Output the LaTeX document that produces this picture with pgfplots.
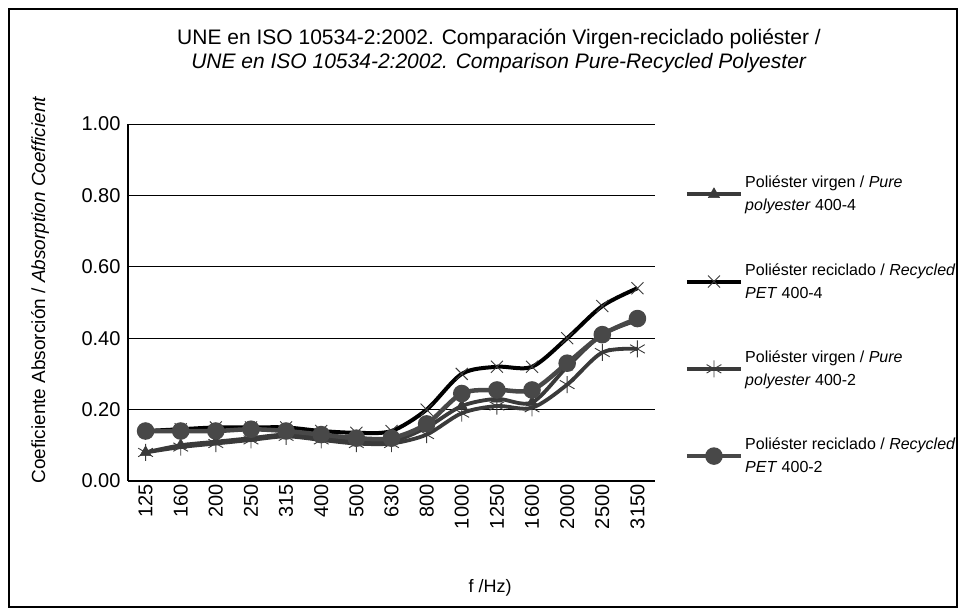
\documentclass[border=0pt]{standalone}
\usepackage{fontspec}
\setmainfont{Liberation Sans}
\usepackage{pgfplots}
\pgfplotsset{compat=1.18}
\definecolor{dg}{HTML}{3A3A3A}
\definecolor{mg}{HTML}{484848}
\begin{document}
\begin{tikzpicture}[x=1bp,y=1bp]
\useasboundingbox (0bp,0bp) rectangle (966bp,616bp);
\fill[white] (0bp,0bp) rectangle (966bp,616bp);
\draw[line width=1.2bp] (9bp,9bp) rectangle (957bp,607bp);
\node[font=\fontsize{21bp}{24bp}\selectfont, align=center] at (499bp,565bp) {UNE en ISO 10534-2:2002. Comparación Virgen-reciclado poliéster /\\ \textit{UNE en ISO 10534-2:2002. Comparison Pure-Recycled Polyester}};
\begin{axis}[
  at={(128bp,135bp)}, anchor=south west,
  scale only axis, width=527bp, height=357bp,
  xmin=-0.5, xmax=14.5, ymin=0, ymax=1,
  ytick={0,0.2,0.4,0.6,0.8,1},
  xtick={0,...,14},
  xticklabels={125,160,200,250,315,400,500,630,800,1000,1250,1600,2000,2500,3150},
  x tick label style={rotate=90, anchor=east, font=\fontsize{20bp}{22bp}\selectfont},
  y tick label style={font=\fontsize{20bp}{22bp}\selectfont, xshift=-4bp},
  /pgf/number format/.cd, fixed, fixed zerofill, precision=2, assume math mode=true,
  /pgfplots/.cd,
  ymajorgrids, grid style={black, line width=0.8bp},
  axis x line*=bottom, axis y line*=left,
  axis line style={-, line width=1.2bp},
  tick style={draw=none},
  major tick length=5bp,
  xlabel={f /Hz)},
  xlabel style={at={(rel axis cs:0.687,-0.30)}, anchor=center, font=\fontsize{18bp}{20bp}\selectfont},
  ylabel={Coeficiente Absorción / \textit{Absorption Coefficient}},
  ylabel style={at={(rel axis cs:-0.167,0.535)}, anchor=center, font=\fontsize{19bp}{22bp}\selectfont},
  legend cell align=left,
  legend style={at={(rel axis cs:1.056,0.86)}, anchor=north west, draw=none, fill=none,
    cells={align=left}, font=\fontsize{16bp}{23bp}\selectfont, row sep=47bp, inner sep=0pt},
  legend image code/.code={\draw[#1, mark repeat=2, mark phase=2] plot coordinates {(0bp,0bp) (27bp,0bp) (54bp,0bp)};},
]
\addplot[dg, line width=3.8bp, smooth, tension=0.5, mark=triangle*, mark size=6.5bp, mark options={solid, fill=dg, draw=dg, line width=0.5bp}]
 coordinates {(0,0.08) (1,0.10) (2,0.11) (3,0.12) (4,0.13) (5,0.12) (6,0.11) (7,0.11) (8,0.15) (9,0.21) (10,0.23) (11,0.22) (12,0.32) (13,0.41) (14,0.45)};
\addlegendentry{Poliéster virgen / \textit{Pure}\\\textit{polyester} 400-4}
\addplot[black, line width=4bp, smooth, tension=0.5, mark=x, mark size=8.5bp, mark options={solid, draw=dg, line width=0.9bp}]
 coordinates {(0,0.14) (1,0.145) (2,0.15) (3,0.15) (4,0.15) (5,0.14) (6,0.135) (7,0.14) (8,0.20) (9,0.30) (10,0.32) (11,0.32) (12,0.40) (13,0.49) (14,0.54)};
\addlegendentry{Poliéster reciclado / \textit{Recycled}\\\textit{PET} 400-4}
\addplot[dg, line width=3.8bp, smooth, tension=0.5, mark=asterisk, mark size=8.5bp, mark options={solid, draw=dg, line width=0.9bp}]
 coordinates {(0,0.08) (1,0.095) (2,0.105) (3,0.115) (4,0.125) (5,0.115) (6,0.105) (7,0.105) (8,0.13) (9,0.19) (10,0.21) (11,0.205) (12,0.27) (13,0.36) (14,0.37)};
\addlegendentry{Poliéster virgen / \textit{Pure}\\\textit{polyester} 400-2}
\addplot[mg, line width=4.5bp, smooth, tension=0.5, mark=*, mark size=6.5bp, mark options={solid, fill=mg, draw=mg}]
 coordinates {(0,0.14) (1,0.14) (2,0.14) (3,0.145) (4,0.14) (5,0.13) (6,0.12) (7,0.12) (8,0.16) (9,0.245) (10,0.255) (11,0.255) (12,0.33) (13,0.41) (14,0.455)};
\addlegendentry{Poliéster reciclado / \textit{Recycled}\\\textit{PET} 400-2}
\end{axis}
\end{tikzpicture}
\end{document}
